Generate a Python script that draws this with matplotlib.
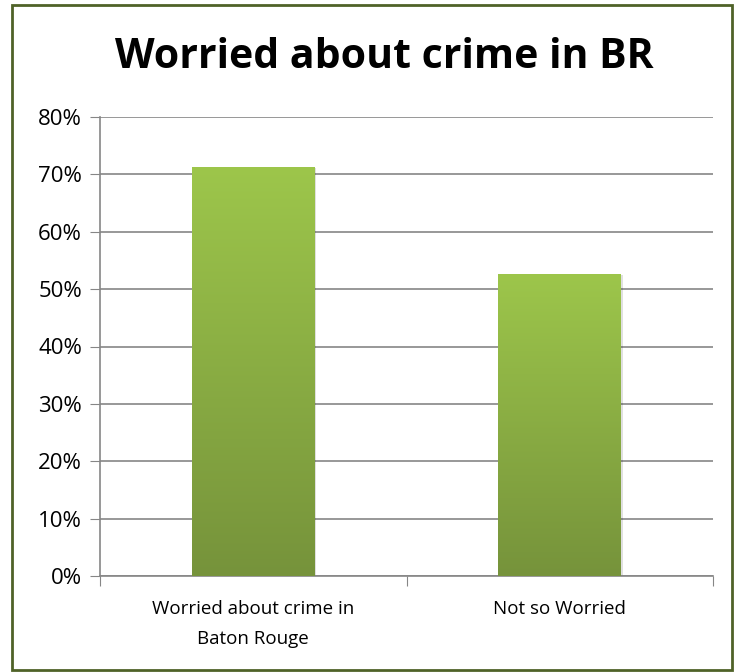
import numpy as np
import matplotlib
matplotlib.use("Agg")
import matplotlib.pyplot as plt
from matplotlib.patches import Rectangle
from matplotlib.ticker import PercentFormatter

categories = ["Worried about crime in\nBaton Rouge", "Not so Worried"]
values = [0.713, 0.527]
yticks = [0.0, 0.1, 0.2, 0.3, 0.4, 0.5, 0.6, 0.7, 0.8]

plt.rcParams['font.family'] = ['Open Sans', 'DejaVu Sans']

fig = plt.figure(figsize=(7.34, 6.72), dpi=100)
ax = fig.add_axes([100 / 734, 96 / 672, 613 / 734, 459 / 672])

# outer frame of the chart
fig.patches.append(Rectangle((12 / 734, 2 / 672), 720 / 734, 665 / 672,
                             transform=fig.transFigure, fill=False,
                             edgecolor="#4f6228", linewidth=2))

x = np.arange(len(categories))
width = 0.40
bars = ax.bar(x, values, width=width, color="none", edgecolor="none", zorder=3)

# vertical gradient fill, light on top, darker at the base
top = np.array([0x9d, 0xc6, 0x4b]) / 255
bottom = np.array([0x76, 0x93, 0x3b]) / 255
for b in bars:
    x0, w, h = b.get_x(), b.get_width(), b.get_height()
    t = np.linspace(0, 1, 256)[:, None]
    grad = (bottom * (1 - t) + top * t)[:, None, :].repeat(2, axis=1)
    # soft shadow
    ax.add_patch(Rectangle((x0 + 0.006, 0), w, h - 0.002, color="#000000",
                           alpha=0.12, zorder=2, linewidth=0))
    im = ax.imshow(grad, extent=[x0, x0 + w, 0, h], origin="lower",
                   aspect="auto", zorder=3)
    im.set_clip_path(b)

ax.set_xlim(-0.5, 1.5)
ax.set_ylim(0, 0.8)
ax.set_yticks(yticks)
ax.yaxis.set_major_formatter(PercentFormatter(1.0, decimals=0))
ax.set_xticks([-0.5, 0.5, 1.5])
ax.set_xticklabels([])
ax.set_xticks(x, minor=True)
ax.set_xticklabels(categories, minor=True, fontsize=13.5, linespacing=1.85)
ax.tick_params(axis="x", which="minor", length=0, pad=17)
ax.tick_params(axis="x", which="major", length=7, color="#868686", direction="out")
ax.tick_params(axis="y", length=7, color="#868686", direction="out", labelsize=16, pad=6)

ax.grid(axis="y", color="#868686", linewidth=1.2, zorder=0)
ax.set_axisbelow(True)
for s in ["top", "right"]:
    ax.spines[s].set_visible(False)
for s in ["left", "bottom"]:
    ax.spines[s].set_color("#868686")
    ax.spines[s].set_linewidth(1.2)

fig.text(0.524, 1 - 58 / 672, "Worried about crime in BR", ha="center", va="center",
         fontsize=29.5, fontweight="bold")

fig.savefig("out.png", dpi=100)
